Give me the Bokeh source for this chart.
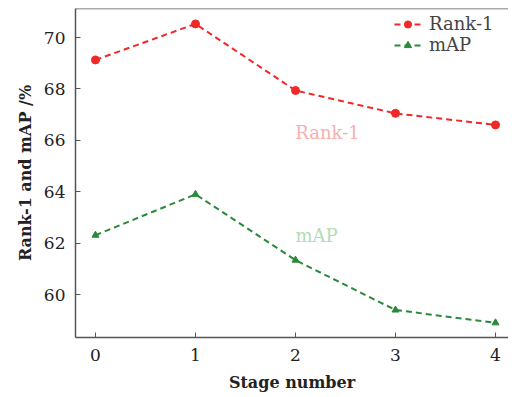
from bokeh.plotting import figure
from bokeh.models import Range1d, Span, Legend, LegendItem, FixedTicker, Label
from bokeh.embed import file_html
from bokeh.resources import INLINE

stages = [0, 1, 2, 3, 4]
rank1 = [69.13, 70.53, 67.94, 67.05, 66.6]
mAP = [62.31, 63.9, 61.34, 59.4, 58.9]
y_ticks = [60, 62, 64, 66, 68, 70]
x_ticks = [0, 1, 2, 3, 4]

FONT = "DejaVu Serif"
RED = "#f02828"
GREEN = "#2a8a3a"

p = figure(width=508, height=397, output_backend="svg", toolbar_location=None,
           x_range=Range1d(-0.2, 4.13), y_range=Range1d(58.33, 71.13),
           min_border_left=75, min_border_right=0, min_border_top=8, min_border_bottom=60)
p.outline_line_color = None
p.background_fill_color = "white"
p.border_fill_color = "white"
p.grid.grid_line_color = None

for ax in (p.xaxis[0], p.yaxis[0]):
    ax.axis_line_color = "#555555"
    ax.axis_line_width = 1.5
    ax.major_tick_line_color = "#555555"
    ax.major_tick_in = 5
    ax.major_tick_out = 0
    ax.minor_tick_line_color = None
    ax.major_label_text_font = FONT
    ax.major_label_text_font_size = "17px"
    ax.major_label_text_color = "#222222"
    ax.axis_label_text_font = FONT
    ax.axis_label_text_font_size = "16px"
    ax.axis_label_text_font_style = "bold"
    ax.axis_label_text_color = "#222222"

p.xaxis.ticker = FixedTicker(ticks=x_ticks)
p.yaxis.ticker = FixedTicker(ticks=y_ticks)
p.xaxis.axis_label = "Stage number"
p.yaxis.axis_label = "Rank-1 and mAP /%"
p.xaxis.major_label_standoff = 11
p.yaxis.major_label_standoff = 10
p.xaxis.axis_label_standoff = 9
p.yaxis.axis_label_standoff = 6

p.add_layout(Span(location=71.13, dimension="width", line_color="#555555", line_width=1.5))

r1l = p.line(stages, rank1, line_color=RED, line_width=2, line_dash="6 4")
r1m = p.scatter(stages, rank1, marker="circle", size=8, fill_color=RED, line_color=RED)
m1l = p.line(stages, mAP, line_color=GREEN, line_width=2, line_dash="6 4")
m1m = p.scatter(stages, mAP, marker="triangle", size=7, fill_color=GREEN, line_color=GREEN)

p.add_layout(Label(x=2.32, y=66.31, text="Rank-1", text_color="#f7b0b0",
                   text_font=FONT, text_font_size="18px",
                   text_align="center", text_baseline="middle"))
p.add_layout(Label(x=2.0, y=62.3, text="mAP", text_color="#b0dcb8",
                   text_font=FONT, text_font_size="18px",
                   text_align="left", text_baseline="middle"))

legend = Legend(items=[LegendItem(label="Rank-1", renderers=[r1l, r1m]),
                       LegendItem(label="mAP", renderers=[m1l, m1m])],
                location=(319, 282), border_line_color=None, background_fill_alpha=0,
                label_text_font=FONT, label_text_font_size="18px",
                glyph_width=27, glyph_height=18, label_height=18, spacing=0,
                padding=4, margin=0, label_standoff=8)
p.add_layout(legend)

open("out.html", "w").write(file_html(p, INLINE))
